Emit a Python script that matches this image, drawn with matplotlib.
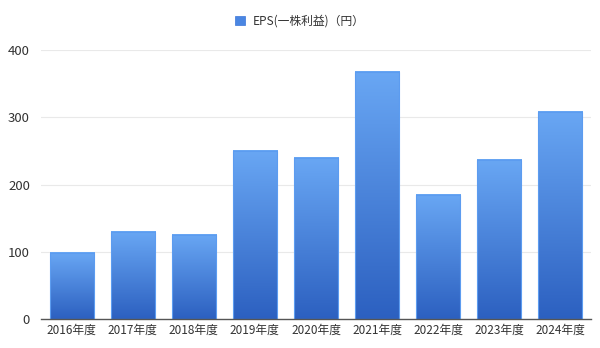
import matplotlib
matplotlib.use("Agg")
import matplotlib.pyplot as plt
import numpy as np
from matplotlib.colors import LinearSegmentedColormap
from matplotlib.patches import Patch

plt.rcParams['font.family'] = ['Noto Sans CJK JP', 'DejaVu Sans']

categories = ["2016年度", "2017年度", "2018年度", "2019年度", "2020年度",
              "2021年度", "2022年度", "2023年度", "2024年度"]
eps = [99, 130, 126, 250, 239, 367, 185, 236, 308]
yticks = [0, 100, 200, 300, 400]
series_name = "EPS(一株利益)（円）"

fig = plt.figure(figsize=(6, 3.48), dpi=100)
ax = fig.add_axes([0.0683, 0.0819, 0.9167, 0.7745])

x = np.arange(len(categories))
width = 0.72
bars = ax.bar(x, eps, width=width, color='none', edgecolor='#5c9cf0', linewidth=0.8, zorder=3)

cmap = LinearSegmentedColormap.from_list("g", ["#2c60c0", "#69a7f4"])
grad = np.linspace(0, 1, 256).reshape(-1, 1)
for b in bars:
    x0, y0 = b.get_x(), b.get_y()
    w, h = b.get_width(), b.get_height()
    ax.imshow(grad, cmap=cmap, origin='lower', aspect='auto',
              extent=[x0, x0 + w, y0, y0 + h], zorder=2)

ax.set_xlim(-0.5, len(categories) - 0.5)
ax.set_ylim(0, 400)
ax.set_yticks(yticks)
ax.set_xticks(x)
ax.set_xticklabels(categories)
ax.grid(axis='y', color='#e9e9e9', linewidth=0.8, zorder=0)
ax.set_axisbelow(True)
for s in ['top', 'right', 'left']:
    ax.spines[s].set_visible(False)
ax.spines['bottom'].set_color('#555555')
ax.spines['bottom'].set_linewidth(1.0)
ax.spines['bottom'].set_zorder(4)
ax.tick_params(axis='both', length=0, labelcolor='#333333')
ax.tick_params(axis='x', labelsize=8.5, pad=3)
ax.tick_params(axis='y', labelsize=9.5, pad=8)

handle = Patch(facecolor='#4a86e2', edgecolor='#3a75d8', linewidth=0.5)
fig.legend([handle], [series_name], loc='center', bbox_to_anchor=(0.5, 0.94),
           frameon=False, fontsize=8.5, handlelength=0.8, handleheight=0.8,
           handletextpad=0.7, labelcolor='#333333')

fig.savefig("out.png", dpi=100)
